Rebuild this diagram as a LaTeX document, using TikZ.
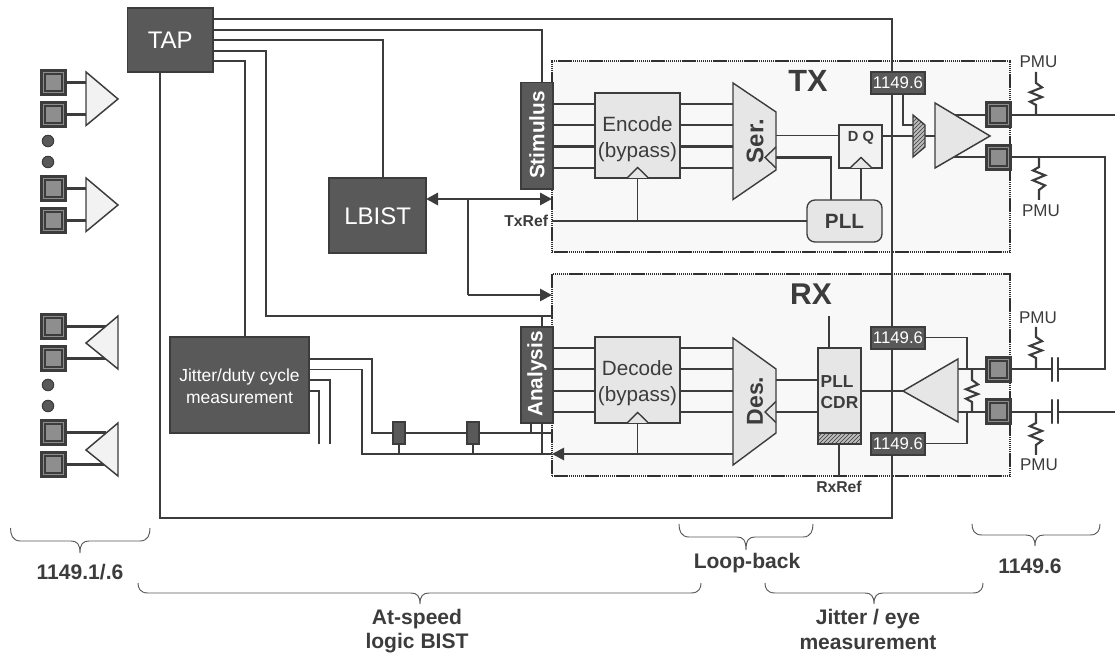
\documentclass[tikz,border=0pt]{standalone}
\usepackage{fontspec}
\setmainfont{Liberation Sans}
\usetikzlibrary{arrows.meta,patterns}
\pgfdeclarelayer{bgl}\pgfdeclarelayer{wires}\pgfsetlayers{bgl,wires,main}
\definecolor{ink}{HTML}{3C3C3C}
\definecolor{dark}{HTML}{595959}
\definecolor{midg}{HTML}{8E8E8E}
\definecolor{lite}{HTML}{E6E6E6}
\definecolor{pale}{HTML}{F2F2F2}
\definecolor{zone}{HTML}{F8F8F8}
\newcommand\fz[2]{\fontsize{#1}{#2}\selectfont}
\newcommand\bx[7]{\node[#1,minimum width={(#5-#3)*.75pt},minimum height={(#6-#4)*.75pt}] (#2) at ({(#3+#5)/2},{(#4+#6)/2}) {#7};}
% zig-zag resistor: x, wire start y, body y1, body y2, amplitude, wire end y
\newcommand\zigres[6]{\draw[resw] (#1,#2) -- (#1,#3) -- ({#1+#5},{#3+.2*(#4-#3)}) -- ({#1-#5},{#3+.42*(#4-#3)}) -- ({#1+#5},{#3+.64*(#4-#3)}) -- ({#1-#5},{#3+.85*(#4-#3)}) -- (#1,#4) -- (#1,#6);}
\newcommand\clk[3]{\draw[wire,fill=lite] (#1,#3) -- ({#1+#2},{#3-10.5}) -- ({#1+2*#2},#3);}
\newcommand\brc[6]{\draw[brw] (#1,#3) .. controls (#1,{(#3+#4)/2}) and ({#1+2},#4) .. ({#1+10},#4) -- ({#6-9},#4) .. controls ({#6-3},#4) and (#6,{#4+3}) .. (#6,#5) .. controls (#6,{#4+3}) and ({#6+3},#4) .. ({#6+9},#4) -- ({#2-10},#4) .. controls ({#2-2},#4) and (#2,{(#3+#4)/2}) .. (#2,#3);}
\tikzset{
  x=.75pt,y=-.75pt,
  wire/.style={draw=ink,line width=1.05pt},
  bus/.style={draw=ink,line width=1.6pt},
  resw/.style={draw=ink,line width=1.6pt},
  brw/.style={draw=ink!85,line width=.7pt},
  blk/.style={draw=ink,fill=dark,line width=1pt,inner sep=0pt,outer sep=0pt,text=white,align=center},
  lblk/.style={draw=ink,fill=lite,line width=1pt,inner sep=0pt,outer sep=0pt,text=ink,align=center},
  zonebox/.style={draw=ink!80!black,fill=zone,line width=1.9pt,dash pattern=on 1.1pt off .45pt,inner sep=0pt,outer sep=0pt},
  hatch/.style={draw=ink,line width=1pt,preaction={fill=midg!60},pattern=north east lines,pattern color=ink},
  tag/.style={blk,font=\fz{12.6}{14}},
  lab/.style={inner sep=0pt,outer sep=0pt,text=ink,align=center},
  pmu/.style={lab,font=\fz{12.75}{14}},
  biglab/.style={lab,font=\bfseries\fz{15.8}{18}},
  pad/.style={rectangle,fill=ink,draw=ink,line width=.6pt,minimum size=19.4pt,inner sep=0pt,outer sep=0pt,
    path picture={
      \draw[midg,line width=.6pt] (path picture bounding box.center) ++(-10,-10) rectangle ++(20,20);
      \fill[midg] (path picture bounding box.center) ++(-7.5,-7.5) rectangle ++(15,15);
    }},
  dot/.style={circle,fill=dark,draw=ink,line width=.8pt,minimum size=8.6pt,inner sep=0pt},
  tip/.style={-{Triangle[length=9pt,width=9pt]}},
  tips/.style={{Triangle[length=9pt,width=9pt]}-{Triangle[length=9pt,width=9pt]}},
}
\begin{document}
\begin{tikzpicture}
\useasboundingbox (0,0) rectangle (1115,655);
% zones
\begin{pgfonlayer}{bgl}
\bx{zonebox}{tx}{552}{61}{1010}{252}{}
\bx{zonebox}{rx}{552}{274}{1010}{476}{}
\end{pgfonlayer}
% blocks
\bx{blk,font=\fz{18}{20}}{tap}{127.5}{8}{213}{72}{TAP}
\bx{blk,font=\fz{18}{20}}{lbist}{329}{178}{426}{253}{}
\node[lab,text=white,font=\fz{18}{20}] (lbistt) at (377.7,216) {LBIST};
\bx{blk}{jit}{170}{337}{309}{433}{}
\node[lab,text=white,font=\fz{13.1}{16.5}] (jitt) at (239.5,386) {Jitter/duty cycle\\measurement};
\bx{blk}{stim}{521}{82.5}{553}{189}{}
\node[lab,text=white,rotate=90,font=\bfseries\fz{15.6}{17}] (stimt) at (537,135) {Stimulus};
\bx{blk}{ana}{521}{327}{553}{423}{}
\node[lab,text=white,rotate=90,font=\bfseries\fz{15.6}{17}] (anat) at (537,374) {Analysis};
\bx{lblk}{enc}{595}{93}{680}{178}{}
\node[lab,font=\fz{15.5}{19.5}] (enct) at (637.5,139.5) {Encode\\(bypass)};
\bx{lblk}{dec}{595}{337}{680}{423}{}
\node[lab,font=\fz{15.5}{19.5}] (dect) at (637.5,383) {Decode\\(bypass)};
\bx{lblk,fill=pale}{dq}{839}{125}{882}{168}{}
\node[lab,font=\bfseries\fz{11}{13}] (dqt) at (861,138) {D Q};
\bx{lblk,rounded corners=6pt,font=\bfseries\fz{15.5}{18}}{pll}{807}{200}{882}{242}{PLL}
\bx{lblk}{cdr}{818}{348}{861}{444}{}
\bx{hatch,inner sep=0pt,outer sep=0pt}{cdrh}{818}{433}{861}{444}{}
\node[lab,align=left,font=\bfseries\fz{13}{16}] (cdrt) at (839.5,392) {PLL\\CDR};
\bx{tag}{t1}{871}{72}{925}{94}{1149.6}
\bx{tag}{t2}{871}{327}{925}{349}{1149.6}
\bx{tag}{t3}{871}{433}{925}{455}{1149.6}
% clocks on registers
\clk{627}{10.7}{178}
\clk{627}{10.7}{423}
\clk{850}{11}{168}
% serializer / deserializer
\draw[wire,fill=lite] (733,83) -- (776,112) -- (776,170) -- (733,199.5) -- cycle;
\draw[wire,fill=lite] (733,338) -- (776,369) -- (776,433) -- (733,465) -- cycle;
\draw[wire] (776,147) -- (765,157.5) -- (776,168);
\draw[wire] (776,401.5) -- (765,412) -- (776,422.5);
\node[lab,rotate=90,font=\bfseries\fz{18}{20}] (sert) at (755,141) {Ser.};
\node[lab,rotate=90,font=\bfseries\fz{17.3}{20}] (dest) at (755,401) {Des.};
\coordinate (serin) at (733,0);
\coordinate (serout) at (776,0);
% amplifiers and hatched mux
\draw[hatch] (913,115) -- (925,125) -- (925,147) -- (913,157) -- cycle;
\coordinate (mux) at (913,136);
\coordinate (muxo) at (925,136);
\draw[wire,line width=1.1pt,fill=lite] (935,103) -- (990,136) -- (935,168) -- cycle;
\coordinate (txa) at (935,136);
\draw[wire,line width=1.1pt,fill=lite] (903,391) -- (958,359) -- (958,422) -- cycle;
\coordinate (rxa) at (903,391);
% pads
\node[pad] (po1) at (998.5,114.5) {};
\node[pad] (po2) at (998.5,157.5) {};
\node[pad] (pi1) at (998.5,369.3) {};
\node[pad] (pi2) at (998.5,411.5) {};
\node[pad] (l1) at (53.5,82.5) {};
\node[pad] (l2) at (53.5,114.5) {};
\node[pad] (l3) at (53.5,188.5) {};
\node[pad] (l4) at (53.5,220.5) {};
\node[pad] (l5) at (53.5,326.5) {};
\node[pad] (l6) at (53.5,358.5) {};
\node[pad] (l7) at (53.5,432.5) {};
\node[pad] (l8) at (53.5,464.5) {};
\node[dot] (d1) at (48,141) {};
\node[dot] (d2) at (48,162) {};
\node[dot] (d3) at (48,385) {};
\node[dot] (d4) at (48,406) {};
\foreach \a in {72,178} \draw[wire,line width=1.1pt,fill=pale] (86,\a) -- (118,{\a+27}) -- (86,{\a+53.5}) -- cycle;
\foreach \a in {316,423} \draw[wire,line width=1.1pt,fill=pale] (118,\a) -- (86,{\a+27}) -- (118,{\a+53}) -- cycle;
% small jitter tap boxes
\bx{blk,line width=.8pt}{s1}{393}{422}{405}{444}{}
\bx{blk,line width=.8pt}{s2}{467}{422}{479}{444}{}
% text
\node[lab,font=\bfseries\fz{23}{25}] (txl) at (808,81) {TX};
\node[lab,font=\bfseries\fz{22.5}{25}] (rxl) at (811,294) {RX};
\node[lab,anchor=east,font=\bfseries\fz{11.8}{13}] (txref) at (548,221) {TxRef};
\node[lab,font=\bfseries\fz{11.8}{13}] (rxref) at (839,487) {RxRef};
\node[pmu] (m1) at (1038.5,62) {PMU};
\node[pmu] (m2) at (1041,211) {PMU};
\node[pmu] (m3) at (1038,318) {PMU};
\node[pmu] (m4) at (1039,465) {PMU};
\node[biglab] (b1) at (80,572) {1149.1/.6};
\node[biglab] (b2) at (747,563) {Loop-back};
\node[biglab] (b3) at (1030,566) {1149.6};
\node[biglab] (b4) at (417,619) {At-speed};
\node[biglab] (b5) at (417,643) {logic BIST};
\node[biglab] (b6) at (868,619) {Jitter / eye};
\node[biglab] (b7) at (868,643) {measurement};
% braces
\brc{10.5}{150}{528}{541}{553}{80}
\brc{138}{701}{583}{593}{604}{420}
\brc{679}{813}{524}{537}{550}{746}
\brc{972}{1100}{524}{535}{546}{1035}
\brc{765}{983}{583}{593}{604}{874}
% resistors
\zigres{1036}{72}{83}{105}{6}{115}
\zigres{1039}{200}{190}{167}{6}{157}
\zigres{1036}{327}{337}{358}{6}{369}
\zigres{1036}{455}{445}{423}{6}{412}
\zigres{972}{369}{380}{402}{6}{412}
% capacitors
\coordinate (c1a) at (1052,369);
\coordinate (c1b) at (1058,369);
\coordinate (c2a) at (1052,412);
\coordinate (c2b) at (1058,412);
\foreach \c/\t in {1052/358,1058/358,1052/400,1058/400}
  \draw[ink,line width=1.8pt,line cap=round] (\c,\t) -- (\c,{\t+23});
\coordinate (fr1) at (1115,115);
\coordinate (fr2) at (1115,412);
\coordinate (corner) at (1105,157);
\begin{pgfonlayer}{wires}
% TAP wiring
\draw[wire] (tap.east |- 0,19) -| (892,518) -| (160,0 |- tap.south);
\draw[wire] (tap.east |- 0,30) -| (stim.north -| 542,0);
\draw[wire] (tap.east |- 0,40) -| (lbist.north -| 383,0);
\draw[wire] (tap.east |- 0,51) -| (266,316) -- (rx.west |- 0,316);
\draw[wire] (tap.east |- 0,61) -| (jit.north -| 245,0);
% LBIST arrows
\draw[bus,line width=2.2pt,tips] (lbist.east |- 0,199) -- (tx.west |- 0,199);
\draw[wire] (468,199) -- (468,295);
\draw[bus,line width=2pt,tip] (468,295) -- (rx.west |- 0,295);
% TX data path
\foreach \y in {104,125,146.5,168} {
  \draw[bus] (stim.east |- 0,\y) -- (enc.west |- 0,\y);
  \draw[bus] (enc.east |- 0,\y) -- (serin |- 0,\y);
}
\draw[wire] (serout |- 0,135.7) -- (dq.west |- 0,135.7);
\draw[bus] (serout |- 0,157.5) -| (pll.north -| 831,0);
\draw[wire] (dq.south -| 861,0) -- (pll.north -| 861,0);
\draw[wire] (tx.west |- pll.west) -- (pll.west);
\draw[wire] (637.7,221) -- (enc.south -| 637.7,0);
\draw[wire] (dq.east |- muxo) -- (mux);
\draw[wire] (muxo) -- (txa);
\draw[wire] (t1.south -| 903,0) |- (913,125);
\draw[bus] (950,115) -- (po1.west |- 0,115);
\draw[bus] (950,157) -- (po2.west |- 0,157);
\draw[bus] (po1.east |- fr1) -- (fr1);
\draw[bus] (po2.east |- corner) -- (corner) -- (corner |- c1b) -- (c1b);
% RX data path
\foreach \y in {348,369,391,412} {
  \draw[bus] (ana.east |- 0,\y) -- (dec.west |- 0,\y);
  \draw[bus] (dec.east |- 0,\y) -- (733,\y);
}
\draw[wire] (776,380) -- (cdr.west |- 0,380);
\draw[wire] (776,412) -- (cdr.west |- 0,412);
\draw[wire] (cdr.north -| 829,0) -- (829,316);
\draw[wire] (cdrh.south -| 839,0) -- (rx.south -| 839,0);
\draw[wire] (cdr.east |- rxa) -- (rxa);
\draw[bus,line width=2pt,tip] (733,454) -- (rx.west |- 0,454);
\draw[wire] (637.7,454) -- (dec.south -| 637.7,0);
\draw[wire] (t2.east |- 0,337.5) -| (967,369);
\draw[wire] (t3.east |- 0,443.5) -| (967,412);
\draw[wire] (958,369) -- (pi1.west |- 0,369);
\draw[wire] (958,412) -- (pi2.west |- 0,412);
\draw[bus] (pi1.east |- c1a) -- (c1a);
\draw[bus] (pi2.east |- c2a) -- (c2a);
\draw[bus] (c2b) -- (fr2);
% jitter block wiring
\draw[wire] (jit.east |- 0,359) -| (372,433) -- (rx.west |- 0,433);
\draw[wire] (jit.east |- 0,369.5) -| (362,454) -- (rx.west |- 0,454);
\draw[wire] (jit.east |- 0,380) -| (330,444);
\draw[wire] (jit.east |- 0,391) -| (319,444);
\draw[wire] (s1.south) -- (399,454);
\draw[wire] (s2.south) -- (473,454);
\draw[wire] (ana.south -| 531,0) -- (531,433);
\draw[wire] (ana.south -| 542,0) -- (542,454);
\draw[wire] (ana.north -| 542,0) -- (542,316);
% left pads
\foreach \p/\y in {l1/82.5,l2/114.5,l3/188.5,l4/220.5} \draw[bus] (\p.east) -- (86,\y);
\foreach \p/\y in {l5/326.5,l6/358.5,l7/432.5,l8/464.5} \draw[bus] (\p.east) -- (106,\y);
\end{pgfonlayer}
\end{tikzpicture}
\end{document}
